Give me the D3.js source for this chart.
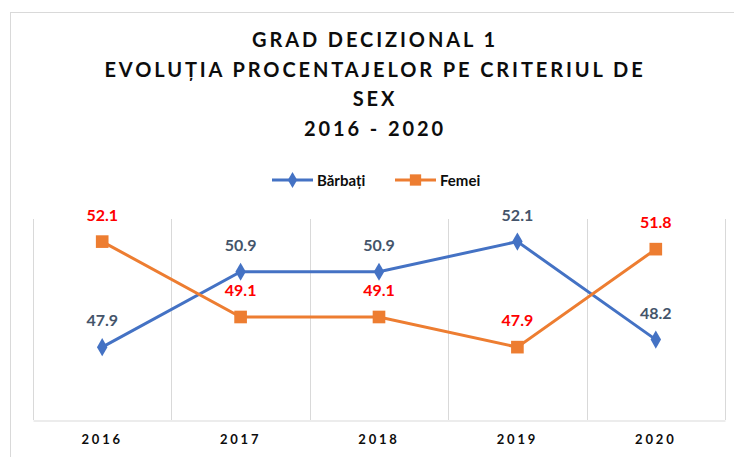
<!DOCTYPE html>
<html>
<head>
<meta charset="utf-8">
<script src="https://cdn.jsdelivr.net/npm/d3@7"></script>
<style>
  body { margin: 0; background: #fff; }
  text { font-family: Lato, "Open Sans", sans-serif; }
</style>
</head>
<body>
<div id="chart"></div>
<script>
// data
const years = ["2016", "2017", "2018", "2019", "2020"];
const barbati = [47.9, 50.9, 50.9, 52.1, 48.2];
const femei = [52.1, 49.1, 49.1, 47.9, 51.8];
const titleLines = ["GRAD DECIZIONAL 1", "EVOLUȚIA PROCENTAJELOR PE CRITERIUL DE", "SEX", "2016 - 2020"];

const W = 734, H = 457;
const plot = {left: 33, right: 725, top: 219, bottom: 420};

const svg = d3.select("#chart")
  .append("svg")
  .attr("width", W)
  .attr("height", H);

// chart frame
svg.append("rect")
  .attr("x", 10.5).attr("y", 12.5)
  .attr("width", 740).attr("height", 460)
  .attr("fill", "#fff")
  .attr("stroke", "#d9d9d9");

// title
svg.append("g")
  .selectAll("text")
  .data(titleLines)
  .enter()
  .append("text")
    .attr("x", 375)
    .attr("y", (d, i) => 47 + i * 29.5)
    .attr("text-anchor", "middle")
    .attr("font-size", 20)
    .attr("font-weight", "bold")
    .attr("letter-spacing", 2.9)
    .attr("fill", "#0d0d0d")
    .text(d => d);

// scales
const x = d3.scaleBand()
  .domain(years)
  .range([plot.left, plot.right]);

const y = d3.scaleLinear()
  .domain([45, 53])
  .range([plot.bottom, plot.top]);

// vertical gridlines at category boundaries
const bounds = years.map(d => x(d)).concat([plot.right]);
svg.append("g")
  .selectAll("line")
  .data(bounds)
  .enter()
  .append("line")
    .attr("x1", d => Math.round(d) + 0.5)
    .attr("x2", d => Math.round(d) + 0.5)
    .attr("y1", plot.top)
    .attr("y2", plot.bottom)
    .attr("stroke", "#d9d9d9");

// x axis
const xAxis = svg.append("g")
  .attr("transform", "translate(0," + (plot.bottom + 0.5) + ")")
  .call(d3.axisBottom(x).tickSize(0).tickPadding(14));
xAxis.select(".domain").attr("stroke", "#d9d9d9");
xAxis.selectAll("text")
  .attr("font-family", "Lato, 'Open Sans', sans-serif")
  .attr("font-size", 13)
  .attr("font-weight", "bold")
  .attr("letter-spacing", 2.8)
  .attr("fill", "#0d0d0d");

const series = [
  {name: "Bărbați", values: barbati, color: "#4472C4", label: "#44546A", marker: d3.symbolDiamond, size: 95},
  {name: "Femei", values: femei, color: "#ED7D31", label: "#FF0000", marker: d3.symbolSquare, size: 160}
];

const cx = i => x(years[i]) + x.bandwidth() / 2;

const line = d3.line()
  .x((d, i) => cx(i))
  .y(d => y(d));

series.forEach(s => {
  const g = svg.append("g");

  g.append("path")
    .datum(s.values)
    .attr("d", line)
    .attr("fill", "none")
    .attr("stroke", s.color)
    .attr("stroke-width", 3);

  g.selectAll("path.marker")
    .data(s.values)
    .enter()
    .append("path")
      .attr("class", "marker")
      .attr("d", d3.symbol().type(s.marker).size(s.size))
      .attr("transform", (d, i) => "translate(" + cx(i) + "," + y(d) + ")")
      .attr("fill", s.color);

  g.selectAll("text")
    .data(s.values)
    .enter()
    .append("text")
      .attr("x", (d, i) => cx(i))
      .attr("y", d => y(d) - 21)
      .attr("text-anchor", "middle")
      .attr("font-size", 16)
      .attr("font-weight", "bold")
      .attr("fill", s.label)
      .text(d => d.toFixed(1));
});

// legend
const legend = svg.append("g");
const legendX = [272, 395];
series.forEach((s, i) => {
  const lg = legend.append("g")
    .attr("transform", "translate(" + legendX[i] + ",180)");
  lg.append("line")
    .attr("x1", 0).attr("x2", 41)
    .attr("stroke", s.color)
    .attr("stroke-width", 3);
  lg.append("path")
    .attr("d", d3.symbol().type(s.marker).size(s.size * 0.8))
    .attr("transform", "translate(20.5,0)")
    .attr("fill", s.color);
  lg.append("text")
    .attr("x", 45)
    .attr("y", 5.5)
    .attr("font-size", 15)
    .attr("font-weight", "bold")
    .attr("fill", "#0d0d0d")
    .text(s.name);
});
</script>
</body>
</html>
